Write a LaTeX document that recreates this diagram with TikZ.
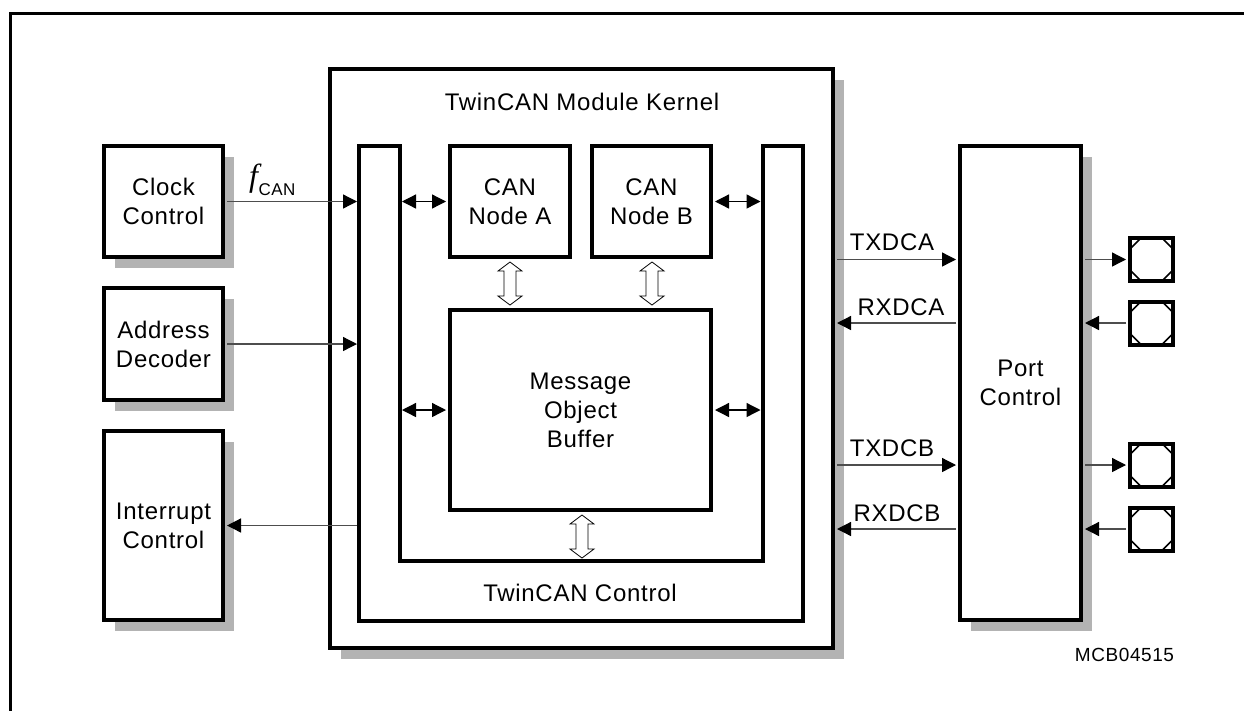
\documentclass[tikz,border=0pt]{standalone}
\usepackage{fontspec}
\setmainfont{Liberation Sans}[LetterSpace=3]
\newfontfamily\seriffont{Liberation Serif}
\usetikzlibrary{arrows.meta,shadows,calc}
\definecolor{shadowgray}{HTML}{B3B3B3}
\definecolor{conngray}{HTML}{4D4D4D}
\tikzset{
  x=1pt, y=-1pt,
  boxshadow/.style={drop shadow={shadow xshift=10.5pt, shadow yshift=-10.5pt, fill=shadowgray, opacity=1}},
  blk/.style={draw, line width=4pt, fill=white, align=center, inner sep=0pt, font=\fontsize{24}{29}\selectfont},
  tip/.tip={Triangle[length=14pt,width=14pt,color=black]},
  conn/.style={draw=conngray, line width=1.3pt, -tip, shorten >=2pt, shorten <=2pt},
  biconn/.style={draw=black, line width=1.3pt, tip-tip, shorten >=2pt, shorten <=2pt},
  lbl/.style={font=\fontsize{24}{29}\selectfont, inner sep=0pt},
  hollow/.style={draw=black, line width=0.8pt, fill=white},
  pinbox/.style={draw, line width=4pt, fill=white, minimum width=43pt, minimum height=43pt, inner sep=0pt,
    path picture={
      \draw[line width=1.6pt]
        ([xshift=11pt]path picture bounding box.north west) -- ([yshift=-11pt]path picture bounding box.north west)
        ([xshift=-11pt]path picture bounding box.north east) -- ([yshift=-11pt]path picture bounding box.north east)
        ([xshift=11pt]path picture bounding box.south west) -- ([yshift=11pt]path picture bounding box.south west)
        ([xshift=-11pt]path picture bounding box.south east) -- ([yshift=11pt]path picture bounding box.south east);}},
}
\newcommand\hollowdarrow[2]{%
  \draw[hollow] let \p1=(#1), \p2=(#2) in
   (\x1,\y1) -- (\x1+12pt,\y1-9pt) -- (\x1+6pt,\y1-9pt) -- (\x1+6pt,\y2+9pt) -- (\x1+12pt,\y2+9pt)
   -- (\x1,\y2) -- (\x1-12pt,\y2+9pt) -- (\x1-6pt,\y2+9pt) -- (\x1-6pt,\y1-9pt) -- (\x1-12pt,\y1-9pt) -- cycle;}
\begin{document}
\begin{tikzpicture}
\useasboundingbox (0,0) rectangle (1244,710);
% outer frame
\draw[line width=3pt] (10.5,715) -- (10.5,13) -- (1250,13);

% kernel
\node[draw, line width=4pt, fill=white, boxshadow, minimum width=503pt, minimum height=579pt, inner sep=0pt] (kernel) at (581.5,358.5) {};
\node[lbl] (ktitle) at (582,102) {TwinCAN Module Kernel};

% TwinCAN control U shape
\coordinate (ctlOutL) at (359,146);
\coordinate (ctlInL) at (400,146);
\coordinate (ctlInR) at (762.5,146);
\coordinate (ctlOutR) at (803,146);
\coordinate (ctlInB) at (581.5,561);
\draw[line width=4pt, fill=white] (ctlOutL) -- (359,621) -- (803,621) -- (ctlOutR) -- (ctlInR) -- (762.5,561) -- (400,561) -- (ctlInL) -- cycle;
\node[lbl] (ctltitle) at (580,592.5) {TwinCAN Control};

% CAN nodes and buffer
\node[blk, minimum width=120pt, minimum height=111pt] (canA) at (510,201.5) {CAN\\Node A};
\node[blk, minimum width=119pt, minimum height=111pt] (canB) at (651.5,201.5) {CAN\\Node B};
\node[blk, minimum width=261pt, minimum height=200pt] (mob) at (580.5,410) {Message\\Object\\Buffer};

% left blocks
\node[blk, boxshadow, minimum width=119pt, minimum height=111pt] (clock) at (163.5,201.5) {Clock\\Control};
\node[blk, boxshadow, minimum width=119pt, minimum height=112pt] (addr) at (163.5,344) {Address\\Decoder};
\node[blk, boxshadow, minimum width=119pt, minimum height=189pt] (intr) at (163.5,525.5) {Interrupt\\Control};

% port control
\node[blk, boxshadow, minimum width=121pt, minimum height=474pt] (port) at (1020.5,383) {Port\\Control};

% pins
\node[pinbox] (pin1) at (1151.5,259.5) {};
\node[pinbox] (pin2) at (1151.5,323) {};
\node[pinbox] (pin3) at (1151.5,465) {};
\node[pinbox] (pin4) at (1151.5,529) {};

% hollow double arrows
\coordinate (haAt) at ($(canA.south)+(0pt,-3pt)$);
\coordinate (haAb) at ($(canA.south |- mob.north)+(0pt,3pt)$);
\coordinate (haBt) at ($(652,0 |- canB.south)+(0pt,-3pt)$);
\coordinate (haBb) at ($(652,0 |- mob.north)+(0pt,3pt)$);
\coordinate (haMt) at ($(582,0 |- mob.south)+(0pt,-3pt)$);
\coordinate (haMb) at ($(582,0 |- ctlInB)+(0pt,3pt)$);
\hollowdarrow{haAt}{haAb}
\hollowdarrow{haBt}{haBb}
\hollowdarrow{haMt}{haMb}

% inner bidirectional arrows
\draw[biconn] (canA.west -| ctlInL) -- (canA.west);
\draw[biconn] (canB.east) -- (canB.east -| ctlInR);
\draw[biconn] (mob.west -| ctlInL) -- (mob.west);
\draw[biconn] (mob.east) -- (mob.east -| ctlInR);

% left connectors
\draw[conn] (clock.east) -- (clock.east -| ctlOutL);
\node[inner sep=0pt, anchor=base west] (fcan) at (249,186) {{\seriffont\itshape\fontsize{32}{32}\selectfont f}\kern0.5pt\raisebox{-9pt}{\fontsize{17}{17}\selectfont CAN}};
\draw[conn] (addr.east) -- (addr.east -| ctlOutL);
\draw[conn] (intr.east -| ctlOutL) -- (intr.east);

% kernel <-> port
\draw[conn] (pin1.west -| kernel.east) -- (pin1.west -| port.west);
\draw[conn] (pin2.west -| port.west) -- (pin2.west -| kernel.east);
\draw[conn] (pin3.west -| kernel.east) -- (pin3.west -| port.west);
\draw[conn] (pin4.west -| port.west) -- (pin4.west -| kernel.east);
\node[lbl] (ltxa) at (892,242.5) {TXDCA};
\node[lbl] (lrxa) at (901,307.5) {RXDCA};
\node[lbl] (ltxb) at (892,448.5) {TXDCB};
\node[lbl] (lrxb) at (897,513) {RXDCB};

% port <-> pins
\draw[conn] (pin1.west -| port.east) -- (pin1.west);
\draw[conn] (pin2.west) -- (pin2.west -| port.east);
\draw[conn] (pin3.west -| port.east) -- (pin3.west);
\draw[conn] (pin4.west) -- (pin4.west -| port.east);

\node[inner sep=0pt, font=\fontsize{19}{19}\selectfont] (mcb) at (1124.5,655) {MCB04515};
\end{tikzpicture}
\end{document}
